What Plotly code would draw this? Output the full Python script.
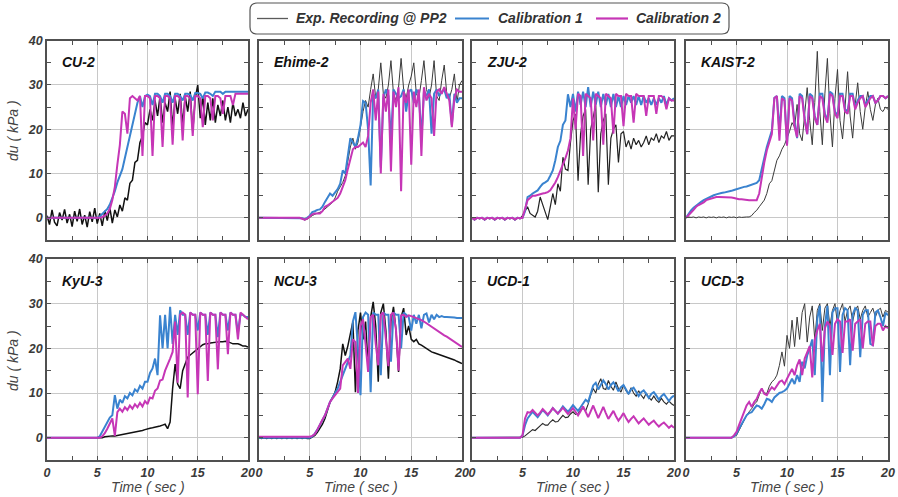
import plotly.graph_objects as go

# ---------------- data ----------------
TIME = [
    0, 0.25, 0.5, 0.75, 1, 1.25, 1.5, 1.75, 2, 2.25, 2.5, 2.75,
    3, 3.25, 3.5, 3.75, 4, 4.25, 4.5, 4.75, 5, 5.25, 5.5, 5.75,
    6, 6.25, 6.5, 6.75, 7, 7.25, 7.5, 7.75, 8, 8.25, 8.5, 8.75,
    9, 9.25, 9.5, 9.75, 10, 10.25, 10.5, 10.75, 11, 11.25, 11.5, 11.75,
    12, 12.25, 12.5, 12.75, 13, 13.25, 13.5, 13.75, 14, 14.25, 14.5, 14.75,
    15, 15.25, 15.5, 15.75, 16, 16.25, 16.5, 16.75, 17, 17.25, 17.5, 17.75,
    18, 18.25, 18.5, 18.75, 19, 19.25, 19.5, 19.75, 20,
]

PANEL_NAMES = ["CU-2", "Ehime-2", "ZJU-2", "KAIST-2", "KyU-3", "NCU-3", "UCD-1", "UCD-3"]
SERIES_NAMES = ["Exp. Recording @ PP2", "Calibration 1", "Calibration 2"]
X_TICKS = [0, 5, 10, 15, 20]
Y_TICKS = [0, 10, 20, 30, 40]

# ---- CU-2 ----
CU2_EXP = [
    0.5, -1.5, 1.8, -1.0, -1.8, 1.2, -0.5, 1.9, -1.2, 0.8, -2.0, 1.5,
    -0.8, 2.0, -1.5, 0.6, -2.1, 1.4, -0.9, 2.2, -1.3, 1.0, -1.8, 1.6,
    -0.6, 2.3, -1.2, 1.8, 0.2, 2.9, 1.5, 4.5, 4.0, 7.8, 8.5, 12.5,
    13.0, 17.0, 18.5, 21.5, 21.0, 24.5, 22.0, 26.5, 23.0, 27.5, 21.5, 26.0,
    24.0, 28.5, 20.5, 27.0, 23.5, 28.0, 21.0, 27.5, 24.0, 28.5, 19.5, 27.0,
    30.0, 22.5, 27.5, 21.0, 26.0, 22.0, 27.0, 21.5, 25.5, 23.0, 26.5, 22.0,
    25.0, 21.5, 26.0, 23.0, 24.5, 22.5, 26.0, 23.0, 24.5,
]
CU2_CAL1 = [
    0, 0, 0, 0, 0, 0, 0, 0, 0, 0, 0, 0,
    0, 0, 0, 0, 0, 0, 0, 0, 0, 0.3, 0.8, 1.5,
    2.0, 3.0, 4.5, 6.0, 8.0, 9.5, 11.0, 13.5, 16.0, 18.0, 20.5, 23.5,
    26.0, 27.5, 25.0, 27.5, 27.8, 27.5, 25.5, 28.0, 28.0, 27.5, 26.0, 28.0,
    28.0, 27.5, 26.0, 28.0, 28.0, 27.5, 26.5, 28.0, 28.0, 27.8, 26.5, 28.2,
    28.2, 28.0, 27.0, 28.3, 28.3, 28.0, 27.5, 28.5, 28.5, 28.5, 28.0, 28.5,
    28.5, 28.5, 28.5, 28.5, 28.5, 28.5, 28.5, 28.5, 28.5,
]
CU2_CAL2 = [
    0, 0, 0, 0, 0, 0, 0, 0, 0, 0, 0, 0,
    0, 0, 0, 0, 0, 0, 0, 0, 0, 0, 0.2, 0.5,
    1.0, 2.0, 4.0, 7.0, 12.0, 16.5, 24.0, 23.5, 19.0, 27.0, 27.5, 27.0,
    26.5, 27.5, 14.0, 27.5, 27.5, 27.0, 14.0, 27.5, 27.5, 27.0, 16.0, 27.5,
    27.5, 27.0, 16.5, 27.5, 27.5, 27.0, 17.5, 27.5, 27.5, 27.0, 18.5, 27.5,
    27.5, 27.0, 20.5, 27.5, 27.5, 27.0, 22.0, 27.5, 27.5, 27.0, 23.5, 27.5,
    27.5, 27.5, 25.5, 28.0, 28.0, 28.0, 28.0, 28.0, 28.0,
]

# ---- Ehime-2 ----
EHIME2_EXP = [
    0, 0, 0, 0, 0, 0, 0, 0, 0, 0, 0, 0,
    0, 0, 0, 0, 0, -0.2, -0.5, -0.3, 0.2, 0.5, 0.8, 1.0,
    1.3, 1.5, 2.0, 2.5, 3.2, 3.5, 4.5, 6.0, 7.0, 8.0, 9.5, 13.0,
    16.0, 18.0, 15.5, 17.0, 21.0, 24.0, 26.5, 25.0, 29.0, 32.5, 27.0, 29.0,
    35.0, 28.0, 27.0, 30.0, 35.5, 28.0, 26.5, 29.5, 36.0, 29.0, 27.0, 30.0,
    32.0, 35.0, 28.0, 27.0, 31.0, 35.5, 29.0, 27.0, 30.0, 35.5, 27.5, 26.5,
    31.0, 34.5, 28.0, 27.0, 29.0, 32.5, 26.0, 30.0, 31.0,
]
EHIME2_CAL1 = [
    0, 0, 0, 0, 0, 0, 0, 0, 0, 0, 0, 0,
    0, 0, 0, 0, 0, -0.1, -0.3, 0, 0.5, 1.3, 1.5, 1.8,
    1.9, 2.5, 3.6, 4.5, 5.5, 5.0, 5.8, 6.5, 7.7, 10.7, 10.0, 14.0,
    18.0, 17.0, 16.0, 18.0, 21.0, 26.4, 26.0, 20.0, 7.3, 28.0, 27.0, 29.0,
    11.4, 27.0, 29.0, 27.5, 17.5, 29.0, 28.0, 27.0, 27.5, 29.0, 24.0, 28.5,
    29.0, 26.0, 29.0, 28.0, 18.0, 28.5, 27.5, 29.0, 19.0, 28.0, 29.0, 27.5,
    28.5, 29.0, 27.0, 28.0, 21.0, 28.0, 26.0, 27.0, 27.0,
]
EHIME2_CAL2 = [
    0, 0, 0, 0, 0, 0, 0, 0, 0, 0, 0, 0,
    0, 0, 0, 0, 0, -0.2, -0.4, -0.2, 0.3, 0.8, 1.0, 1.0,
    1.0, 1.5, 2.5, 2.8, 3.2, 3.5, 4.0, 4.5, 5.5, 7.0, 8.5, 11.0,
    13.5, 15.5, 16.0, 16.0, 16.5, 17.0, 16.0, 18.5, 26.0, 29.0, 22.0, 28.5,
    10.0, 28.0, 24.0, 29.0, 10.5, 28.5, 25.0, 29.5, 6.0, 28.5, 26.0, 29.0,
    12.0, 28.5, 25.0, 29.0, 14.0, 29.5, 26.5, 28.0, 27.0, 18.5, 28.5, 29.0,
    28.0, 29.5, 28.0, 26.5, 20.5, 27.0, 29.0, 28.5, 28.5,
]

# ---- ZJU-2 ----
ZJU2_EXP = [
    0, -0.5, 0, -0.2, 0, -0.5, 0, -0.2, 0, -0.5, 0, -0.2,
    0, -0.5, 0, -0.2, 0, -0.5, 0, -0.2, 0.5, 1.5, 2.5, 1.0,
    0.5, 0.2, 1.5, 4.7, 3.0, 1.0, -0.4, 2.5, 5.5, 3.0, 7.7, 6.0,
    13.7, 11.0, 10.7, 17.0, 22.0, 23.4, 8.4, 19.0, 23.0, 24.5, 7.5, 20.0,
    22.5, 25.5, 5.8, 19.0, 22.0, 23.5, 7.5, 18.0, 20.0, 21.0, 12.5, 19.0,
    19.5, 16.0, 17.5, 15.5, 18.0, 16.5, 17.5, 16.0, 17.0, 18.5, 16.5, 18.0,
    17.5, 19.0, 17.0, 18.5, 18.0, 19.5, 17.5, 18.5, 18.5,
]
ZJU2_CAL1 = [
    0, -0.4, 0, -0.1, 0, -0.4, 0, -0.1, 0, -0.4, 0, -0.1,
    0, -0.4, 0, -0.1, 0, -0.4, 0, -0.1, 0, 1.5, 4.7, 5.0,
    5.5, 5.8, 6.2, 7.0, 7.7, 8.0, 8.4, 9.5, 10.7, 13.0, 16.0, 17.4,
    21.0, 22.0, 27.9, 25.0, 28.0, 24.0, 28.5, 25.5, 28.5, 25.0, 29.5, 25.0,
    28.5, 25.5, 28.5, 25.0, 28.0, 25.5, 28.0, 25.0, 28.0, 25.0, 27.5, 25.0,
    27.5, 25.5, 27.5, 26.0, 27.5, 25.5, 27.5, 25.5, 27.5, 26.0, 27.0, 25.5,
    27.0, 25.5, 27.0, 26.0, 27.5, 25.5, 27.0, 26.5, 27.0,
]
ZJU2_CAL2 = [
    0, -0.4, 0, -0.1, 0, -0.4, 0, -0.1, 0, -0.4, 0, -0.1,
    0, -0.4, 0, -0.1, 0, -0.4, 0, -0.1, 0, 2.0, 4.0, 4.5,
    5.0, 5.0, 5.2, 5.3, 5.5, 5.6, 5.8, 6.2, 7.0, 8.0, 9.2, 10.5,
    12.2, 13.5, 15.2, 18.0, 27.0, 20.0, 28.0, 27.5, 14.0, 28.0, 27.5, 27.0,
    17.5, 28.0, 27.5, 27.0, 16.5, 28.0, 27.5, 27.0, 19.0, 28.0, 27.5, 27.5,
    20.7, 28.0, 27.5, 27.5, 21.5, 28.0, 27.5, 27.5, 27.5, 23.0, 27.5, 27.5,
    27.5, 23.5, 27.5, 27.5, 27.0, 24.5, 27.0, 26.5, 26.5,
]

# ---- KAIST-2 ----
KAIST2_EXP = [
    0, 0.2, 0.1, 0.2, 0, 0.2, 0.1, 0.2, 0, 0.2, 0.1, 0.2,
    0, 0.2, 0.1, 0.2, 0, 0.2, 0.1, 0.2, 0, 0.2, 0.1, 0.2,
    0.2, 0.2, 0.5, 1.2, 1.7, 2.5, 3.2, 4.0, 5.5, 7.7, 8.4, 10.5,
    13.0, 14.0, 15.5, 16.5, 18.0, 19.5, 21.5, 20.5, 25.6, 19.0, 17.4, 23.0,
    29.4, 22.0, 16.5, 26.0, 37.6, 24.0, 16.5, 28.0, 36.0, 23.5, 16.0, 27.0,
    33.5, 22.0, 17.8, 25.0, 33.0, 23.0, 18.0, 25.5, 30.5, 24.0, 20.0, 25.0,
    28.5, 24.5, 22.0, 25.5, 27.0, 24.5, 24.0, 25.0, 24.5,
]
KAIST2_CAL1 = [
    0.0, 1.0, 1.7, 2.3, 2.8, 3.2, 3.6, 4.0, 4.3, 4.6, 4.9, 5.1,
    5.3, 5.5, 5.6, 5.7, 5.8, 6.0, 6.1, 6.3, 6.5, 6.6, 6.8, 7.0,
    7.1, 7.3, 7.5, 7.7, 7.9, 8.5, 11.4, 13.5, 16.0, 18.0, 19.7, 27.1,
    27.5, 19.5, 27.5, 27.0, 16.5, 27.5, 27.0, 21.5, 18.0, 28.0, 27.5, 22.5,
    18.9, 28.0, 27.5, 23.0, 21.0, 28.0, 28.0, 23.5, 22.0, 28.5, 28.0, 24.0,
    23.0, 28.0, 28.0, 24.5, 24.0, 28.0, 28.0, 25.0, 26.5, 27.5, 27.5, 25.5,
    26.5, 27.5, 27.5, 26.0, 26.5, 27.5, 27.5, 27.0, 27.5,
]
KAIST2_CAL2 = [
    0.0, 0.7, 1.2, 1.8, 2.5, 2.9, 3.2, 3.5, 4.0, 4.2, 4.3, 4.5,
    4.7, 4.7, 4.7, 4.7, 4.7, 4.6, 4.6, 4.5, 4.3, 4.2, 4.2, 4.1,
    4.0, 4.0, 4.0, 4.0, 4.0, 5.5, 9.2, 12.5, 15.2, 17.0, 18.9, 27.0,
    27.5, 17.4, 27.0, 26.5, 16.3, 27.0, 26.5, 20.5, 18.2, 27.5, 27.0, 22.0,
    18.9, 27.5, 27.0, 22.5, 21.0, 27.5, 27.0, 23.0, 21.5, 28.0, 27.5, 23.5,
    22.5, 27.5, 27.5, 24.0, 23.5, 27.5, 27.5, 24.5, 26.0, 27.0, 27.5, 25.0,
    26.0, 27.0, 27.5, 26.0, 26.5, 27.5, 27.5, 27.0, 27.5,
]

# ---- KyU-3 ----
KYU3_EXP = [
    0, 0, 0, 0, 0, 0, 0, 0, 0, 0, 0, 0,
    0, 0, 0, 0, 0, 0, 0, 0, 0, 0, 0, 0.2,
    0.3, 0.3, 0.4, 0.4, 0.5, 0.6, 0.7, 0.8, 0.9, 1.0, 1.1, 1.2,
    1.3, 1.4, 1.6, 1.8, 2.0, 2.1, 2.2, 2.3, 2.4, 2.6, 2.8, 3.0,
    2.0, 3.5, 11.0, 16.5, 12.0, 11.0, 15.0, 16.5, 18.0, 18.5, 19.0, 19.5,
    20.0, 20.5, 20.8, 21.0, 21.0, 21.2, 21.3, 21.4, 21.5, 21.5, 21.5, 21.6,
    21.5, 21.3, 21.0, 21.0, 21.0, 20.8, 20.5, 20.5, 20.3,
]
KYU3_CAL1 = [
    0, 0, 0, 0, 0, 0, 0, 0, 0, 0, 0, 0,
    0, 0, 0, 0, 0, 0, 0, 0, 0, 0.3, 1.3, 2.5,
    3.5, 4.5, 5.0, 9.5, 6.5, 8.5, 7.8, 9.3, 8.8, 10.0, 9.5, 10.8,
    10.3, 11.6, 11.0, 12.5, 12.5, 14.5, 15.5, 17.7, 14.0, 27.4, 20.0, 27.5,
    20.0, 29.3, 21.0, 27.5, 23.0, 28.5, 27.5, 27.5, 23.0, 28.0, 27.5, 27.5,
    24.0, 28.0, 27.5, 27.5, 23.0, 28.0, 27.5, 27.5, 22.5, 28.0, 27.5, 27.5,
    24.0, 28.0, 27.5, 27.5, 23.5, 27.5, 27.5, 27.0, 27.0,
]
KYU3_CAL2 = [
    0, 0, 0, 0, 0, 0, 0, 0, 0, 0, 0, 0,
    0, 0, 0, 0, 0, 0, 0, 0, 0, 0, 0.3, 1.0,
    2.0, 3.0, 4.3, 0.4, 5.7, 6.5, 5.8, 6.8, 6.2, 7.2, 6.5, 7.5,
    6.8, 7.8, 7.0, 8.2, 7.5, 9.0, 8.8, 10.5, 11.0, 12.8, 13.0, 15.0,
    16.2, 17.7, 19.2, 26.0, 12.3, 27.5, 28.0, 27.5, 9.0, 28.0, 27.5, 27.5,
    9.7, 28.0, 27.5, 27.5, 12.7, 28.0, 27.5, 27.5, 15.3, 28.0, 27.5, 27.5,
    18.7, 28.0, 27.5, 27.5, 22.0, 28.0, 27.5, 27.0, 26.5,
]

# ---- NCU-3 ----
NCU3_EXP = [
    0, -0.2, 0, -0.2, 0, -0.2, 0, -0.2, 0, -0.2, 0, -0.2,
    0, -0.2, 0, -0.2, 0, -0.2, 0, -0.2, -0.2, 0.2, 0.5, 1.2,
    2.0, 3.0, 4.3, 6.0, 8.0, 9.0, 10.2, 12.5, 15.4, 21.0, 18.4, 20.5,
    23.7, 26.0, 10.2, 24.0, 28.0, 22.0, 26.0, 16.0, 27.0, 30.4, 25.0, 12.5,
    28.0, 30.0, 24.0, 13.2, 26.0, 29.3, 24.0, 14.7, 27.0, 29.0, 23.0, 25.0,
    22.0, 21.5, 22.0, 21.0, 20.7, 20.3, 20.0, 19.7, 19.2, 19.0, 18.8, 18.6,
    18.4, 18.2, 18.0, 17.9, 17.7, 17.4, 17.1, 16.9, 16.6,
]
NCU3_CAL1 = [
    0, 0, 0, 0, 0, 0, 0, 0, 0, 0, 0, 0,
    0, 0, 0, 0, 0, 0, 0, 0, 0, 0.3, 0.9, 1.8,
    2.8, 3.8, 5.0, 6.5, 8.0, 9.0, 9.9, 11.0, 12.5, 14.0, 15.4, 17.0,
    18.4, 26.0, 28.1, 20.0, 9.5, 27.0, 28.0, 27.5, 10.2, 28.0, 27.5, 27.5,
    14.0, 28.0, 27.5, 27.5, 17.0, 28.0, 27.5, 27.5, 20.0, 28.0, 27.5, 27.0,
    24.0, 27.5, 25.5, 27.5, 24.5, 27.5, 27.8, 25.8, 27.5, 26.5, 27.5, 27.0,
    27.2, 27.0, 27.0, 27.0, 27.0, 26.9, 26.8, 26.8, 26.8,
]
NCU3_CAL2 = [
    0.2, 0.2, 0.2, 0.2, 0.2, 0.2, 0.2, 0.2, 0.2, 0.2, 0.2, 0.2,
    0.2, 0.2, 0.2, 0.2, 0.2, 0.2, 0.2, 0.2, 0.2, 0.4, 0.8, 1.8,
    3.1, 4.0, 5.0, 6.5, 8.0, 8.8, 9.5, 10.3, 11.0, 16.2, 17.0, 17.7,
    15.4, 22.0, 21.4, 10.0, 25.0, 26.5, 21.0, 14.7, 27.0, 27.5, 21.0, 16.2,
    27.5, 28.0, 22.0, 16.0, 27.5, 28.0, 24.0, 15.0, 27.4, 27.5, 27.0, 27.4,
    27.2, 27.0, 26.8, 26.5, 26.3, 26.0, 25.6, 25.2, 24.8, 24.4, 24.0, 23.7,
    23.3, 22.9, 22.6, 22.2, 21.8, 21.4, 21.0, 20.7, 20.3,
]

# ---- UCD-1 ----
UCD1_EXP = [
    0, 0, 0, 0, 0, 0, 0, 0, 0, 0, 0, 0,
    0, 0, 0, 0, 0, 0, 0, 0, 0.1, 0.4, 0.9, 1.4,
    1.8, 1.6, 2.2, 2.8, 3.2, 2.8, 2.8, 3.5, 4.0, 3.5, 3.6, 4.3,
    5.0, 4.5, 4.6, 5.3, 5.8, 5.2, 5.4, 6.2, 6.6, 6.0, 7.5, 9.5,
    11.0, 10.0, 12.0, 13.2, 11.0, 10.8, 12.8, 11.5, 10.6, 12.5, 11.0, 10.2,
    11.8, 10.5, 9.8, 11.2, 10.0, 9.3, 10.5, 9.5, 8.8, 10.0, 9.0, 8.4,
    9.3, 8.4, 7.9, 8.8, 8.0, 7.5, 8.2, 7.6, 7.2,
]
UCD1_CAL1 = [
    0, 0, 0, 0, 0, 0, 0, 0, 0, 0, 0, 0,
    0, 0, 0, 0, 0, 0, 0, 0, 0.5, 2.8, 4.3, 5.2,
    5.8, 5.2, 4.6, 5.4, 6.2, 5.6, 5.0, 5.8, 6.6, 6.0, 5.4, 6.2,
    7.0, 6.4, 5.8, 6.5, 7.3, 6.6, 6.0, 6.8, 7.6, 8.5, 8.0, 10.0,
    11.7, 12.3, 10.8, 11.8, 12.8, 12.0, 10.8, 11.8, 12.4, 11.5, 10.4, 11.3,
    11.8, 10.8, 9.8, 10.8, 11.2, 10.3, 9.3, 10.2, 10.6, 9.8, 8.9, 9.8,
    10.2, 9.4, 8.5, 9.3, 9.8, 9.0, 8.2, 9.0, 9.4,
]
UCD1_CAL2 = [
    0, 0, 0, 0, 0, 0, 0, 0, 0, 0, 0, 0,
    0, 0, 0, 0, 0, 0, 0, 0, 0.5, 4.3, 5.7, 5.6,
    6.2, 5.6, 5.0, 5.6, 6.4, 5.8, 5.2, 5.8, 6.6, 6.0, 5.4, 6.0,
    6.7, 6.0, 5.3, 5.9, 6.6, 5.8, 5.0, 5.9, 7.0, 5.8, 4.6, 5.9,
    7.2, 5.8, 4.4, 5.6, 6.9, 5.5, 4.2, 5.1, 6.0, 4.8, 3.8, 4.6,
    5.5, 4.4, 3.5, 4.2, 4.8, 4.0, 3.2, 3.8, 4.3, 3.6, 2.9, 3.4,
    3.8, 3.1, 2.5, 3.0, 3.4, 2.8, 2.2, 2.7, 2.2,
]

# ---- UCD-3 ----
UCD3_EXP = [
    0, 0, 0, 0, 0, 0, 0, 0, 0, 0, 0, 0,
    0, 0, 0, 0, 0, 0, 0, 0.3, 0.5, 1.6, 2.8, 4.0,
    5.0, 5.8, 6.5, 7.5, 8.0, 9.5, 11.0, 10.0, 9.9, 11.5, 12.5, 13.0,
    14.0, 16.2, 19.2, 16.0, 22.9, 20.0, 26.3, 20.4, 27.0, 22.0, 28.0, 30.0,
    21.4, 27.0, 29.5, 22.0, 28.5, 30.0, 24.0, 29.0, 30.0, 25.0, 28.5, 30.0,
    25.5, 28.5, 30.0, 26.0, 28.5, 29.5, 26.0, 28.5, 29.5, 26.5, 28.5, 29.5,
    27.0, 28.0, 29.0, 27.0, 28.5, 29.0, 27.0, 28.5, 28.1,
]
UCD3_CAL1 = [
    0, 0, 0, 0, 0, 0, 0, 0, 0, 0, 0, 0,
    0, 0, 0, 0, 0, 0, 0, 0.3, 0.9, 2.0, 3.1, 4.0,
    5.0, 5.5, 5.7, 6.5, 7.2, 7.0, 6.5, 7.5, 8.7, 8.5, 8.0, 9.0,
    9.5, 10.0, 10.2, 10.5, 11.0, 12.0, 13.2, 12.0, 14.0, 12.5, 17.0, 15.5,
    18.4, 20.0, 22.0, 14.0, 26.6, 29.5, 8.0, 25.0, 29.5, 14.0, 28.0, 29.0,
    29.0, 14.7, 27.5, 29.0, 28.5, 16.2, 27.5, 29.0, 28.5, 18.0, 27.5, 28.5,
    28.5, 21.0, 20.7, 28.0, 28.5, 27.0, 25.0, 28.0, 27.4,
]
UCD3_CAL2 = [
    0, 0, 0, 0, 0, 0, 0, 0, 0, 0, 0, 0,
    0, 0, 0, 0, 0, 0, 0, 0.5, 1.3, 2.8, 4.3, 5.8,
    7.2, 8.0, 6.9, 8.0, 8.7, 10.0, 11.0, 9.8, 9.5, 10.5, 11.3, 10.8,
    11.7, 12.5, 12.8, 12.0, 13.2, 14.5, 15.4, 14.0, 16.2, 17.5, 14.0, 17.7,
    19.2, 20.5, 13.5, 22.0, 24.0, 25.5, 17.0, 24.5, 26.0, 25.0, 18.5, 25.5,
    26.5, 26.0, 19.0, 26.0, 26.0, 26.5, 19.5, 25.5, 26.0, 26.5, 20.0, 25.5,
    26.0, 26.0, 20.5, 25.0, 25.5, 25.5, 24.0, 25.0, 24.5,
]

EXP_SERIES = [CU2_EXP, EHIME2_EXP, ZJU2_EXP, KAIST2_EXP, KYU3_EXP, NCU3_EXP, UCD1_EXP, UCD3_EXP]
CAL1_SERIES = [CU2_CAL1, EHIME2_CAL1, ZJU2_CAL1, KAIST2_CAL1, KYU3_CAL1, NCU3_CAL1, UCD1_CAL1, UCD3_CAL1]
CAL2_SERIES = [CU2_CAL2, EHIME2_CAL2, ZJU2_CAL2, KAIST2_CAL2, KYU3_CAL2, NCU3_CAL2, UCD1_CAL2, UCD3_CAL2]

for group in (EXP_SERIES, CAL1_SERIES, CAL2_SERIES):
    for s in group:
        assert len(s) == len(TIME), len(s)

# ---------------- styling ----------------
W, H = 898, 497
CAL_COLORS = ["#3a83cf", "#c636b6"]
LEGEND_COLORS = ["#5a5a5a", "#3a83cf", "#c636b6"]
EXP_STYLE = [("#111111", 1.5), ("#3a3a3a", 1.0), ("#222222", 1.2), ("#3a3a3a", 1.0),
             ("#111111", 1.5), ("#111111", 1.5), ("#2a2a2a", 1.1), ("#3a3a3a", 1.0)]
FONT = "Liberation Sans, Arial, sans-serif"
FRAME = "#505050"
GRID = "#c8c8c8"
LABEL_GRAY = "#3a3a3a"

COL_PX = [(47, 248), (259, 462), (472, 674), (686, 888)]
ROW_PX = [(40.7, 240), (259, 460)]


def px_x(v):
    return v / W


def px_y(v):
    return 1 - v / H


def xdom(c):
    a, b = COL_PX[c]
    return [px_x(a), px_x(b)]


def ydom(r):
    a, b = ROW_PX[r]
    return [px_y(b), px_y(a)]


fig = go.Figure()
layout = {}
annotations = []
shapes = []

for i in range(8):
    r, c = divmod(i, 4)
    n = "" if i == 0 else str(i + 1)
    xa, ya = "x" + n, "y" + n
    styles = [EXP_STYLE[i], (CAL_COLORS[0], 2.0), (CAL_COLORS[1], 2.0)]
    for k, data in enumerate((EXP_SERIES[i], CAL1_SERIES[i], CAL2_SERIES[i])):
        fig.add_trace(go.Scatter(
            x=TIME, y=data, xaxis=xa, yaxis=ya, mode="lines",
            name=SERIES_NAMES[k], legendgroup=SERIES_NAMES[k], showlegend=False,
            line=dict(color=styles[k][0], width=styles[k][1]),
        ))

    common = dict(
        showline=True, linecolor=FRAME, linewidth=1.6, mirror="ticks",
        showgrid=True, gridcolor=GRID, gridwidth=1, zeroline=False,
        ticks="inside", ticklen=4, tickcolor=FRAME, tickwidth=1,
        automargin=False, fixedrange=True,
        tickfont=dict(family=FONT, size=12.5, color=LABEL_GRAY, style="italic", weight="bold"),
    )
    layout["xaxis" + n] = dict(
        common, domain=xdom(c), anchor=ya, range=[0, 20],
        tickmode="array", tickvals=X_TICKS, ticktext=[str(v) for v in X_TICKS],
        minor=dict(dtick=2.5, tick0=0, ticks="inside", ticklen=4, tickcolor=FRAME, showgrid=False),
        showticklabels=(r == 1),
    )
    layout["yaxis" + n] = dict(
        common, domain=ydom(r), anchor=xa, range=[-5, 40],
        tickmode="array", tickvals=Y_TICKS, ticktext=[str(v) for v in Y_TICKS],
        minor=dict(dtick=5, tick0=0, ticks="inside", ticklen=4, tickcolor=FRAME, showgrid=False),
        showticklabels=(c == 0),
    )
    annotations.append(dict(
        text=PANEL_NAMES[i], xref=xa + " domain", yref=ya + " domain",
        x=0.065, y=0.893, xanchor="left", yanchor="middle", showarrow=False,
        font=dict(family=FONT, size=14, color="#111111", style="italic", weight="bold"),
    ))
    if r == 1:
        annotations.append(dict(
            text="Time ( sec )", xref=xa + " domain", yref="paper",
            x=0.5, y=px_y(487), xanchor="center", yanchor="middle", showarrow=False,
            font=dict(family=FONT, size=14, color="#444444", style="italic"),
        ))
    if c == 0:
        annotations.append(dict(
            text="du ( kPa )", xref="paper", yref="paper", textangle=-90,
            x=px_x(13), y=px_y(131 if r == 0 else 361), xanchor="center", yanchor="middle",
            showarrow=False,
            font=dict(family=FONT, size=14, color="#444444", style="italic"),
        ))

# ---- legend (rounded frame, line samples, labels) ----
x0, x1 = px_x(250), px_x(729)
y0, y1 = px_y(34), px_y(3)
rx, ry = 7 / W, 7 / H
path = (f"M{x0+rx},{y1} L{x1-rx},{y1} Q{x1},{y1} {x1},{y1-ry} L{x1},{y0+ry} "
        f"Q{x1},{y0} {x1-rx},{y0} L{x0+rx},{y0} Q{x0},{y0} {x0},{y0+ry} "
        f"L{x0},{y1-ry} Q{x0},{y1} {x0+rx},{y1} Z")
shapes.append(dict(type="path", path=path, xref="paper", yref="paper", layer="above",
                   line=dict(color="#555555", width=1.2), fillcolor="rgba(0,0,0,0)"))

LEGEND_LINE_PX = [(257, 288), (455, 489), (596, 628)]
LEGEND_TEXT_PX = [294, 496, 634]
LEGEND_Y = 18.5
for k in range(3):
    a, b = LEGEND_LINE_PX[k]
    shapes.append(dict(type="line", xref="paper", yref="paper",
                       x0=px_x(a), x1=px_x(b), y0=px_y(LEGEND_Y), y1=px_y(LEGEND_Y),
                       line=dict(color=LEGEND_COLORS[k], width=1.3 if k == 0 else 2.2)))
    annotations.append(dict(
        text=SERIES_NAMES[k], xref="paper", yref="paper",
        x=px_x(LEGEND_TEXT_PX[k]), y=px_y(LEGEND_Y), xanchor="left", yanchor="middle",
        showarrow=False,
        font=dict(family=FONT, size=14, color="#333333", style="italic", weight="bold"),
    ))

fig.update_layout(
    width=W, height=H,
    margin=dict(l=0, r=0, t=0, b=0),
    paper_bgcolor="white", plot_bgcolor="white",
    showlegend=False,
    shapes=shapes,
    annotations=annotations,
    **layout,
)

fig.write_html(
    "out.html",
    config={"displayModeBar": False},
    post_script="document.body.style.margin='0';document.body.style.padding='0';",
)
